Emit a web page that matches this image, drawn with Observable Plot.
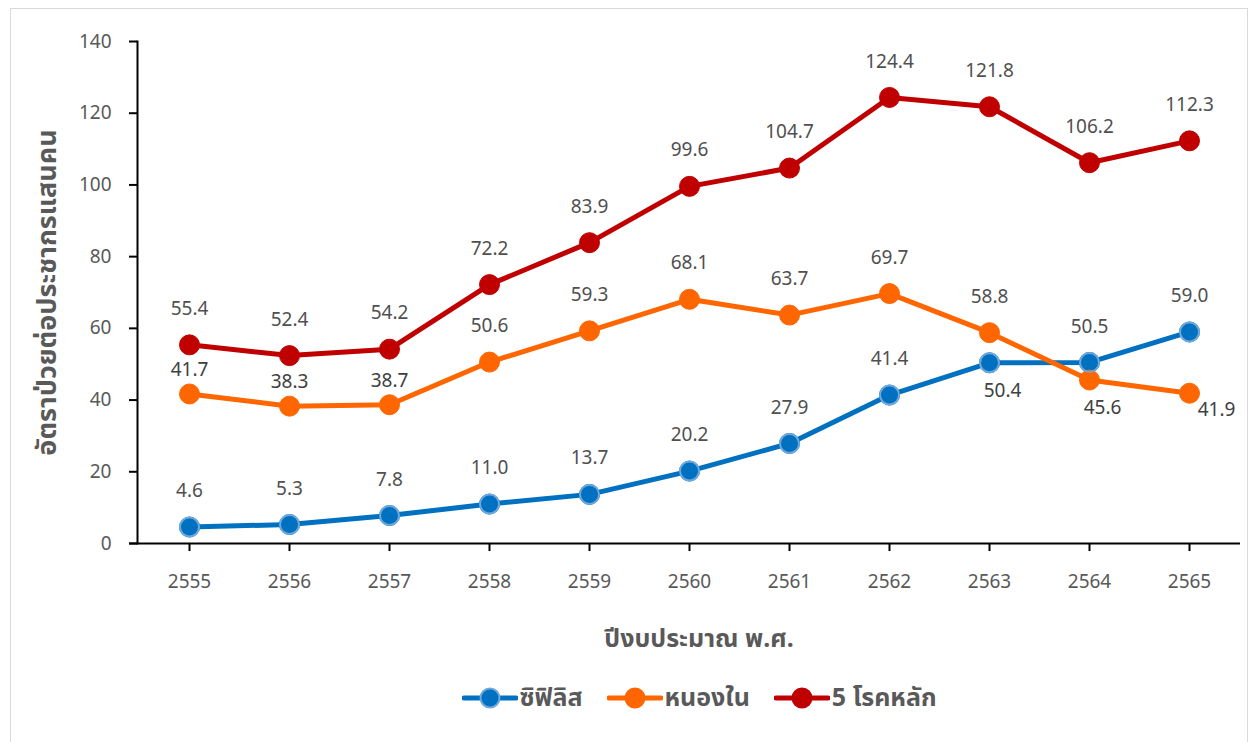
<!DOCTYPE html>
<html>
<head>
<meta charset="utf-8">
<script src="https://cdn.jsdelivr.net/npm/d3@7"></script>
<script src="https://cdn.jsdelivr.net/npm/@observablehq/plot@0.6"></script>
<style>
  html, body { margin: 0; padding: 0; background: #fff; }
  body { width: 1248px; height: 742px; position: relative; overflow: hidden;
         font-family: "Noto Sans", "Noto Sans Thai", "DejaVu Sans", sans-serif; }
  #frame { position: absolute; left: 10px; top: 8px; width: 1238px; height: 740px;
           border: 1px solid #d9d9d9; box-sizing: border-box; }
  #chart { position: absolute; left: 0; top: 0; }
  #xtitle { position: absolute; left: 0; width: 1376px; top: 611px; text-align: center;
            font-size: 25px; font-weight: bold; color: #595959; }
  #legend { position: absolute; left: 0; width: 1376px; top: 670px; display: flex;
            justify-content: center; align-items: center; gap: 24px;
            font-size: 25px; font-weight: bold; color: #595959; }
  .item { display: flex; align-items: center; gap: 2px; }
</style>
</head>
<body>
<div id="frame">
  <div id="chart"></div>
  <div id="xtitle"></div>
  <div id="legend"></div>
</div>
<script>
const years = [2555, 2556, 2557, 2558, 2559, 2560, 2561, 2562, 2563, 2564, 2565];
const syphilis = [4.6, 5.3, 7.8, 11.0, 13.7, 20.2, 27.9, 41.4, 50.4, 50.5, 59.0];
const gonorrhea = [41.7, 38.3, 38.7, 50.6, 59.3, 68.1, 63.7, 69.7, 58.8, 45.6, 41.9];
const major5 = [55.4, 52.4, 54.2, 72.2, 83.9, 99.6, 104.7, 124.4, 121.8, 106.2, 112.3];
const seriesNames = ["ซิฟิลิส", "หนองใน", "5 โรคหลัก"];
const seriesColors = ["#0070C0", "#FF6600", "#C00000"];
const yTicks = [0, 20, 40, 60, 80, 100, 120, 140];
const yTitle = "อัตราป่วยต่อประชากรแสนคน";
const xTitle = "ปีงบประมาณ พ.ศ.";

const seriesValues = [syphilis, gonorrhea, major5];
const rows = [];
seriesNames.forEach((s, i) => years.forEach((y, j) => rows.push({series: s, year: y, value: seriesValues[i][j]})));

const isBelow = d => (d.series === seriesNames[0] && d.year === 2563) || (d.series === seriesNames[1] && d.year === 2564);
const isBelowRight = d => d.series === seriesNames[1] && d.year === 2565;
const isCloseAbove = d => d.series === seriesNames[1] && d.year <= 2557;
const isNormal = d => !isBelow(d) && !isBelowRight(d) && !isCloseAbove(d);
const fmt = d => d.value.toFixed(1);
const font = '"Noto Sans", "Noto Sans Thai", "DejaVu Sans", sans-serif';

const chart = Plot.plot({
  width: 1236,
  height: 600,
  marginLeft: 126,
  marginRight: 7,
  marginTop: 32,
  marginBottom: 66,
  style: {fontFamily: font, fontSize: "19px", background: "#fff"},
  x: {type: "point", domain: years, padding: 0.5},
  y: {domain: [0, 140]},
  color: {domain: seriesNames, range: seriesColors},
  marks: [
    Plot.axisY({ticks: yTicks, tickSize: 8, tickPadding: 18, fill: "#595959", stroke: "#000", strokeWidth: 2, label: null, fontSize: 19}),
    Plot.axisX({tickSize: 8, tickPadding: 23, fill: "#595959", stroke: "#000", strokeWidth: 2, label: null, tickFormat: d => String(d), fontSize: 19}),
    Plot.text([yTitle], {frameAnchor: "left", textAnchor: "middle", lineAnchor: "middle", rotate: -90, dx: -90, fontSize: 27, fontWeight: "bold", fill: "#595959"}),
    Plot.ruleY([0], {stroke: "#000", strokeWidth: 2, insetLeft: -8}),
    Plot.frame({anchor: "left", stroke: "#000", strokeWidth: 2}),
    Plot.line(rows, {x: "year", y: "value", z: "series", stroke: "series", strokeWidth: 5}),
    Plot.dot(rows, {x: "year", y: "value", fill: "series", r: 10, stroke: "series", strokeWidth: 1}),
    Plot.dot(rows.filter(d => d.series === seriesNames[0]), {x: "year", y: "value", r: 9.5, stroke: "#6FA8DC", strokeWidth: 2, fill: "none"}),
    Plot.text(rows.filter(isNormal), {x: "year", y: "value", text: fmt, dy: -36, fill: "#505050", fontSize: 19}),
    Plot.text(rows.filter(isCloseAbove), {x: "year", y: "value", text: fmt, dy: -24, fill: "#404040", fontSize: 19}),
    Plot.text(rows.filter(isBelow), {x: "year", y: "value", text: fmt, dy: 28, dx: 13, fill: "#404040", fontSize: 19}),
    Plot.text(rows.filter(isBelowRight), {x: "year", y: "value", text: fmt, dy: 17, dx: 27, fill: "#404040", fontSize: 19})
  ]
});
document.getElementById("chart").appendChild(chart);
document.getElementById("xtitle").textContent = xTitle;

const legend = document.getElementById("legend");
seriesNames.forEach((s, i) => {
  const item = document.createElement("div");
  item.className = "item";
  const outline = i === 0 ? "#6FA8DC" : seriesColors[i];
  item.innerHTML = `<svg width="56" height="24"><line x1="2" x2="54" y1="12" y2="12" stroke="${seriesColors[i]}" stroke-width="5" stroke-linecap="round"/><circle cx="28" cy="12" r="9.5" fill="${seriesColors[i]}" stroke="${outline}" stroke-width="2"/></svg><span>${s}</span>`;
  legend.appendChild(item);
});
</script>
</body>
</html>
